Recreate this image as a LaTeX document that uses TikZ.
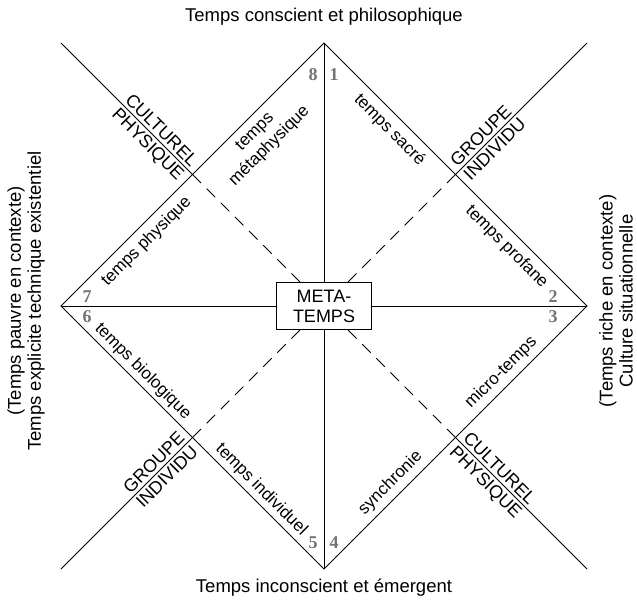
\documentclass[tikz,border=0pt]{standalone}
\usepackage{fontspec}
\setmainfont{Liberation Sans}
\newfontfamily\numfont{Liberation Serif}
\begin{document}
\begin{tikzpicture}[x=1pt,y=1pt,
  thinline/.style={line width=0.9pt, black},
  dashline/.style={thinline, dash pattern=on 12pt off 8pt},
  metabox/.style={draw, thinline, fill=white, minimum width=95pt, minimum height=47pt,
    inner sep=0pt, align=center, font=\fontsize{18}{20}\selectfont},
  num/.style={font=\numfont\bfseries\fontsize{18}{18}\selectfont, text=black!55, inner sep=0pt},
  inlab/.style={sloped, font=\fontsize{17}{20.5}\selectfont, inner xsep=0pt, inner ysep=3.5pt},
  inlabmid/.style={inlab, inner ysep=5.5pt},
  inlabfar/.style={inlab, inner ysep=7pt},
  caplab/.style={sloped, font=\fontsize{18}{20}\selectfont, inner xsep=6pt, inner ysep=3pt},
  outlab/.style={font=\fontsize{18.5}{20}\selectfont, align=center, inner sep=0pt}
]
\useasboundingbox (0,0) rectangle (637,600);

% centre, diamond corners, outer corners and edge midpoints
\coordinate (C) at (324,294);
\coordinate (T) at (324,557);
\coordinate (B) at (324,31);
\coordinate (L) at (61,294);
\coordinate (R) at (587,294);
\coordinate (XTL) at (61,557);
\coordinate (XTR) at (587,557);
\coordinate (XBL) at (61,31);
\coordinate (XBR) at (587,31);
\coordinate (MTL) at (192.5,425.5);
\coordinate (MTR) at (455.5,425.5);
\coordinate (MBL) at (192.5,162.5);
\coordinate (MBR) at (455.5,162.5);

% central box
\node[metabox] (meta) at (C) {META-\\TEMPS};

% diamond
\draw[thinline] (L) -- (T) -- (R) -- (B) -- cycle;

% axes through the centre
\draw[thinline] (T) -- (meta);
\draw[thinline] (meta) -- (B);
\draw[thinline] (L) -- (meta);
\draw[thinline] (meta) -- (R);

% diagonals: solid outside the diamond, dashed inside
\draw[thinline] (XTL) -- (MTL);
\draw[thinline] (XTR) -- (MTR);
\draw[thinline] (XBL) -- (MBL);
\draw[thinline] (XBR) -- (MBR);
\draw[dashline] (MTL) -- (meta);
\draw[dashline] (MTR) -- (meta);
\draw[dashline] (MBL) -- (meta);
\draw[dashline] (MBR) -- (meta);

% labels along the diamond edges
\path (L) -- (T)
  node[inlabfar, pos=0.285, below] (tphys) {temps physique}
  node[inlabfar, pos=0.70, below, align=center] (tmeta) {temps\\métaphysique};
\path (T) -- (R)
  node[inlabfar, pos=0.29, below] (tsacre) {temps sacré}
  node[inlabfar, pos=0.735, below] (tprof) {temps profane};
\path (B) -- (R)
  node[inlabmid, pos=0.29, above] (tsync) {synchronie}
  node[inlabmid, pos=0.71, above] (tmicro) {micro-temps};
\path (L) -- (B)
  node[inlab, pos=0.28, above] (tbio) {temps biologique}
  node[inlab, pos=0.73, above] (tindiv) {temps individuel};

% labels on the outer diagonals
\path (XTL) -- (MTL)
  node[caplab, pos=1, anchor=south east] (cul1) {CULTUREL}
  node[caplab, pos=1, anchor=north east] (phy1) {PHYSIQUE};
\path (MBR) -- (XBR)
  node[caplab, pos=0, anchor=south west] (cul2) {CULTUREL}
  node[caplab, pos=0, anchor=north west] (phy2) {PHYSIQUE};
\path (MTR) -- (XTR)
  node[caplab, pos=0, anchor=south west] (grp1) {GROUPE}
  node[caplab, pos=0, anchor=north west] (ind1) {INDIVIDU};
\path (XBL) -- (MBL)
  node[caplab, pos=1, anchor=south east] (grp2) {GROUPE}
  node[caplab, pos=1, anchor=north east] (ind2) {INDIVIDU};

% sector numbers
\node[num] (n8) at (313,525) {8};
\node[num] (n1) at (334,525) {1};
\node[num] (n2) at (553,303) {2};
\node[num] (n3) at (553,283) {3};
\node[num] (n5) at (313,57) {5};
\node[num] (n4) at (334,57) {4};
\node[num] (n7) at (87,303) {7};
\node[num] (n6) at (87,283) {6};

% outer captions
\node[outlab] (top) at (324,583) {Temps conscient et philosophique};
\node[outlab] (bottom) at (324,12) {Temps inconscient et émergent};
\node[outlab, rotate=90] (left) at (26,299)
  {(Temps pauvre en contexte)\\Temps explicite technique existentiel};
\node[outlab, rotate=90] (right) at (616,299)
  {(Temps riche en contexte)\\Culture situationnelle};
\end{tikzpicture}
\end{document}
